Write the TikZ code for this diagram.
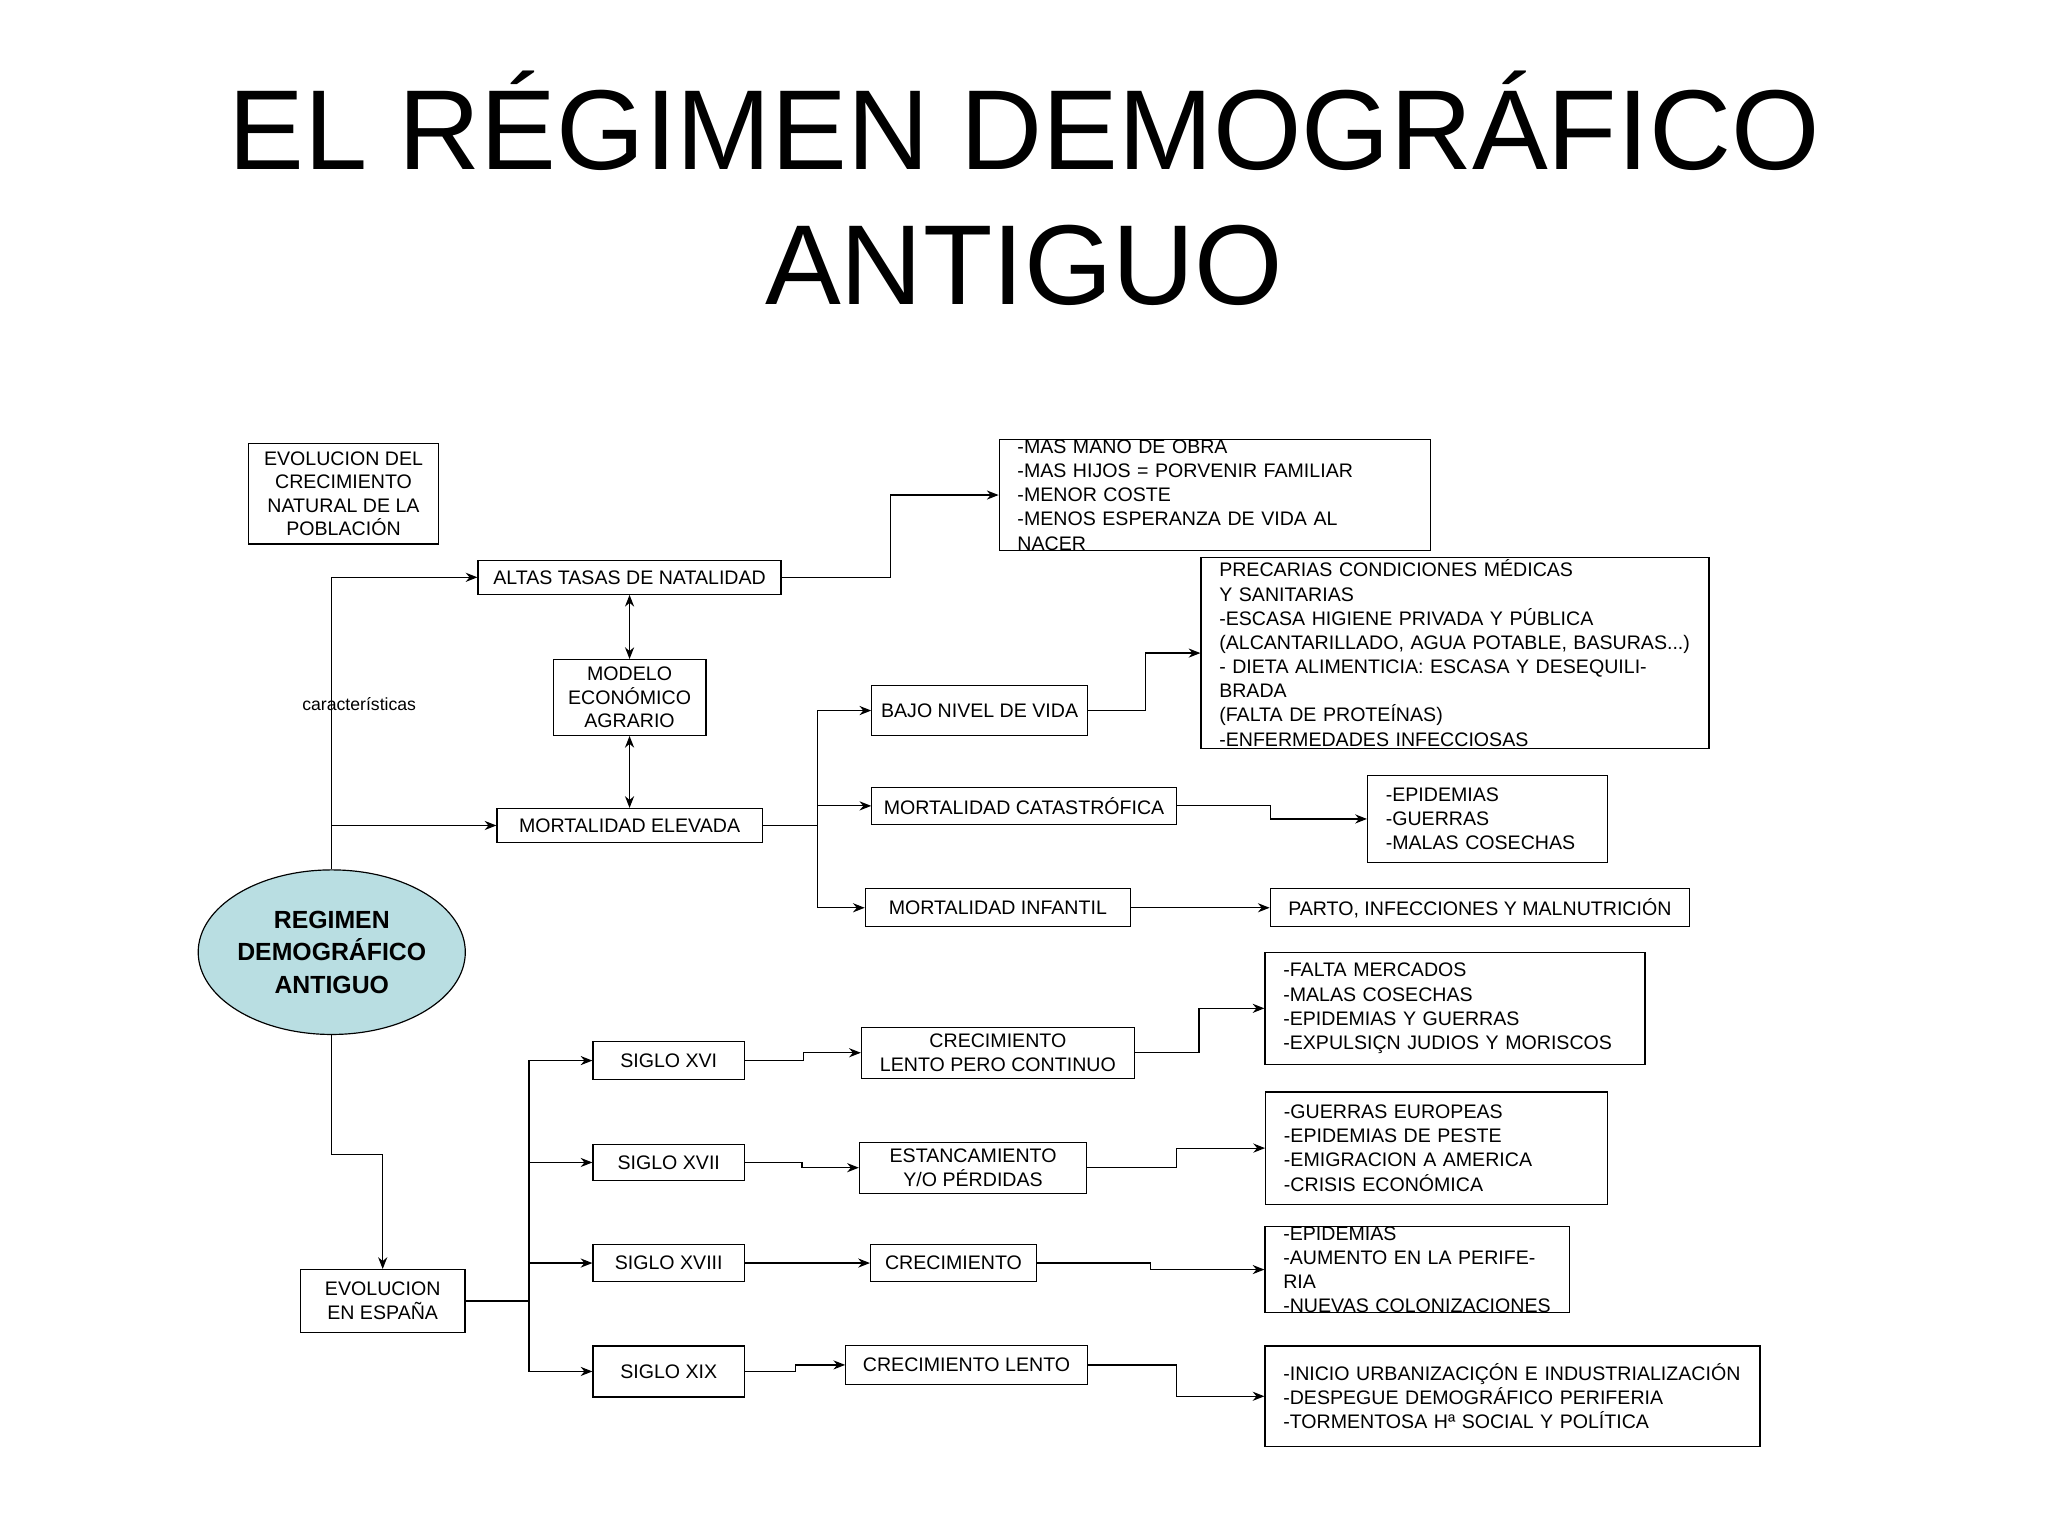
\documentclass[tikz,border=0pt]{standalone}
\usepackage{fontspec}
\setmainfont{Liberation Sans}
\usetikzlibrary{shapes.geometric,arrows.meta}
\begin{document}
\begin{tikzpicture}[x=1pt,y=-1pt,
 bx/.style={draw,line width=0.9pt,inner sep=0pt,font=\fontsize{15}{18}\selectfont,align=center},
 lb/.style={draw,line width=0.9pt,inner sep=0pt,font=\fontsize{15}{18.5}\selectfont,align=left},
 ar/.style={line width=0.9pt,-{Stealth[length=9pt,width=7pt]}},
 ln/.style={line width=0.9pt}]
\useasboundingbox (0,0) rectangle (1568,1176);
\node[font=\fontsize{87}{103}\selectfont,anchor=base] (t1) at (784,130) {EL RÉGIMEN DEMOGRÁFICO};
\node[font=\fontsize{87}{103}\selectfont,anchor=base] (t2) at (784,233) {ANTIGUO};

\node[bx,minimum width=145,minimum height=77] (evol) at (263,378) {EVOLUCION DEL\\CRECIMIENTO\\NATURAL DE LA\\POBLACIÓN};
\node[bx,minimum width=232,minimum height=26] (altas) at (482,442) {ALTAS TASAS DE NATALIDAD};
\node[lb,minimum width=330,minimum height=78,text width=302] (mano) at (930,379) {-MAS MANO DE OBRA\\-MAS HIJOS = PORVENIR FAMILIAR\\-MENOR COSTE\\-MENOS ESPERANZA DE VIDA AL NACER};
\node[bx,minimum width=117,minimum height=58] (modelo) at (482,534) {MODELO\\ECONÓMICO\\AGRARIO};
\node[bx,minimum width=203,minimum height=26] (mort) at (482,632) {MORTALIDAD ELEVADA};
\node[bx,minimum width=165,minimum height=38] (bajo) at (750,544) {BAJO NIVEL DE VIDA};
\node[lb,minimum width=389,minimum height=146,text width=361] (prec) at (1114,500) {PRECARIAS CONDICIONES MÉDICAS\\Y SANITARIAS\\-ESCASA HIGIENE PRIVADA Y PÚBLICA\\(ALCANTARILLADO, AGUA POTABLE, BASURAS...)\\- DIETA ALIMENTICIA: ESCASA Y DESEQUILIBRADA\\(FALTA DE PROTEÍNAS)\\-ENFERMEDADES INFECCIOSAS};
\node[bx,minimum width=233,minimum height=28] (cat) at (784,617) {MORTALIDAD CATASTRÓFICA};
\node[lb,minimum width=184,minimum height=67,text width=156] (epi) at (1139,627) {-EPIDEMIAS\\-GUERRAS\\-MALAS COSECHAS};
\node[bx,minimum width=203,minimum height=29] (inf) at (764,695) {MORTALIDAD INFANTIL};
\node[bx,minimum width=321,minimum height=29] (parto) at (1133,695) {PARTO, INFECCIONES Y MALNUTRICIÓN};
\node[ellipse,draw,line width=0.9pt,fill={rgb,255:red,185;green,222;blue,226},minimum width=200,minimum height=126,inner sep=0pt,align=center,font=\fontsize{19}{25}\selectfont\bfseries] (reg) at (254,729) {REGIMEN\\DEMOGRÁFICO\\ANTIGUO};
\node[font=\fontsize{13.5}{15}\selectfont] (car) at (275,539) {características};

\node[bx,minimum width=116,minimum height=29] (s16) at (512,812) {SIGLO XVI};
\node[bx,minimum width=209,minimum height=39] (c16) at (764,806) {CRECIMIENTO\\LENTO PERO CONTINUO};
\node[lb,minimum width=291,minimum height=86,text width=263] (f16) at (1114,772) {-FALTA MERCADOS\\-MALAS COSECHAS\\-EPIDEMIAS Y GUERRAS\\-EXPULSIÇN JUDIOS Y MORISCOS};
\node[bx,minimum width=116,minimum height=28] (s17) at (512,890) {SIGLO XVII};
\node[bx,minimum width=174,minimum height=39] (c17) at (745,894) {ESTANCAMIENTO\\Y/O PÉRDIDAS};
\node[lb,minimum width=262,minimum height=86,text width=234] (f17) at (1100,879) {-GUERRAS EUROPEAS\\-EPIDEMIAS DE PESTE\\-EMIGRACION A AMERICA\\-CRISIS ECONÓMICA};
\node[bx,minimum width=116,minimum height=28] (s18) at (512,967) {SIGLO XVIII};
\node[bx,minimum width=127,minimum height=28] (c18) at (730,967) {CRECIMIENTO};
\node[lb,minimum width=233,minimum height=58,text width=205] (f18) at (1085,972) {-EPIDEMIAS\\-AUMENTO EN LA PERIFERIA\\-NUEVAS COLONIZACIONES};
\node[bx,minimum width=116,minimum height=39] (s19) at (512,1050) {SIGLO XIX};
\node[bx,minimum width=185,minimum height=30] (c19) at (740,1045) {CRECIMIENTO LENTO};
\node[lb,minimum width=379,minimum height=77,text width=351] (f19) at (1158,1069) {-INICIO URBANIZACIÇÓN E INDUSTRIALIZACIÓN\\-DESPEGUE DEMOGRÁFICO PERIFERIA\\-TORMENTOSA Hª SOCIAL Y POLÍTICA};
\node[bx,minimum width=126,minimum height=48] (esp) at (293,996) {EVOLUCION\\EN ESPAÑA};

\coordinate (k1) at (254,442);
\coordinate (k2) at (254,632);
\draw[ar] (reg.north) -- (k1) -- (altas.west);
\draw[ar] (k2) -- (mort.west);
\draw[ar] (altas.east) -- (682,442) |- (mano.west);
\draw[line width=0.9pt,{Stealth[length=9pt,width=7pt]}-{Stealth[length=9pt,width=7pt]}] (altas.south) -- (modelo.north);
\draw[line width=0.9pt,{Stealth[length=9pt,width=7pt]}-{Stealth[length=9pt,width=7pt]}] (modelo.south) -- (mort.north);
\coordinate (tm) at (626,632);
\draw[ln] (mort.east) -- (tm);
\draw[ar] (tm) |- (bajo.west);
\draw[ar] (tm) |- (cat.west);
\draw[ar] (tm) |- (inf.west);
\draw[ar] (bajo.east) -- (877,544) |- (prec.west);
\draw[ar] (cat.east) -- (973,617) |- (epi.west);
\draw[ar] (inf.east) -- (parto.west);
\draw[ar] (reg.south) -- (254,884) -| (esp.north);
\coordinate (te) at (405,996);
\draw[ln] (esp.east) -- (te);
\draw[ar] (te) |- (s16.west);
\draw[ar] (te) |- (s17.west);
\draw[ar] (te) |- (s18.west);
\draw[ar] (te) |- (s19.west);
\draw[ar] (s16.east) -- (615,812) |- (c16.west);
\draw[ar] (s17.east) -- (614,890) |- (c17.west);
\draw[ar] (s18.east) -- (c18.west);
\draw[ar] (s19.east) -- (609,1050) |- (c19.west);
\draw[ar] (c16.east) -- (918,806) |- (f16.west);
\draw[ar] (c17.east) -- (901,894) |- (f17.west);
\draw[ar] (c18.east) -- (881,967) |- (f18.west);
\draw[ar] (c19.east) -- (901,1045) |- (f19.west);
\end{tikzpicture}
\end{document}
